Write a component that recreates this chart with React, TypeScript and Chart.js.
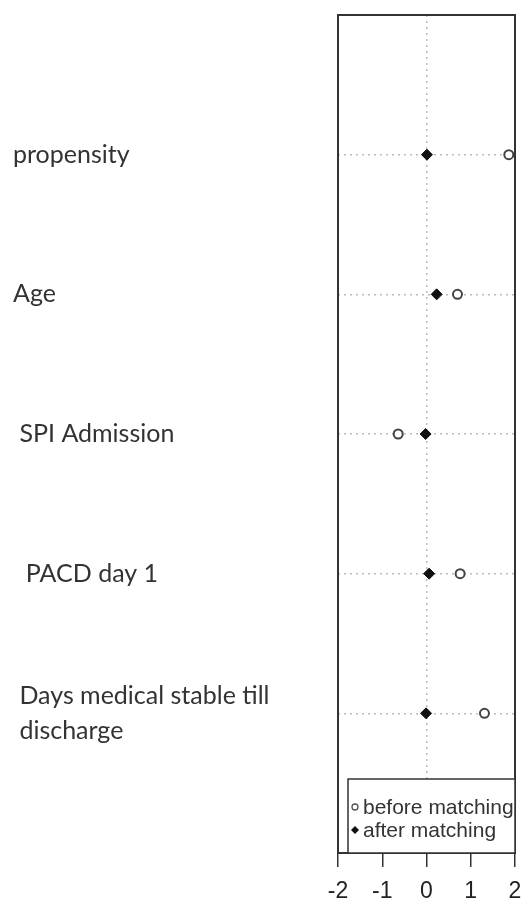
import { useEffect, useRef } from "react";
import { Chart, registerables } from "chart.js";

Chart.register(...registerables);

const categories: (string | string[])[] = [
  "propensity",
  "Age",
  " SPI Admission",
  "  PACD day 1",
  [" Days medical stable till", " discharge"],
];
const beforeMatching = [1.86, 0.7, -0.64, 0.76, 1.31];
const afterMatching = [0.01, 0.23, -0.02, 0.06, -0.01];
const xTicks = [-2, -1, 0, 1, 2];
const legendLabels = ["before matching", "after matching"];

const boxPlugin = {
  id: "boxAndLegend",
  afterDraw(chart: any) {
    const { ctx, chartArea: a } = chart;
    ctx.save();
    ctx.setLineDash([]);
    ctx.strokeStyle = "#333";
    ctx.lineWidth = 2;
    ctx.strokeRect(a.left, a.top, a.right - a.left, a.bottom - a.top);
    // legend
    const lw = 167, lh = 74;
    const lx = a.right - lw, ly = a.bottom - lh;
    ctx.lineWidth = 1.5;
    ctx.fillStyle = "#fff";
    ctx.fillRect(lx, ly, lw, lh);
    ctx.strokeRect(lx, ly, lw, lh);
    ctx.font = "21px 'Liberation Sans', Arial, sans-serif";
    ctx.textBaseline = "alphabetic";
    ctx.textAlign = "left";
    const rows = [ly + 35, ly + 58];
    // before marker
    ctx.beginPath();
    ctx.arc(lx + 7, rows[0] - 7, 3, 0, Math.PI * 2);
    ctx.strokeStyle = "#555";
    ctx.lineWidth = 1.3;
    ctx.stroke();
    // after marker
    ctx.beginPath();
    const cx = lx + 7, cy = rows[1] - 7;
    ctx.moveTo(cx, cy - 4);
    ctx.lineTo(cx + 4, cy);
    ctx.lineTo(cx, cy + 4);
    ctx.lineTo(cx - 4, cy);
    ctx.closePath();
    ctx.fillStyle = "#111";
    ctx.fill();
    ctx.fillStyle = "#333";
    ctx.fillText(legendLabels[0], lx + 15, rows[0]);
    ctx.fillText(legendLabels[1], lx + 15, rows[1]);
    ctx.restore();
  },
};

export default function App() {
  const ref = useRef<HTMLCanvasElement>(null);
  useEffect(() => {
    document.body.style.margin = "0";
    const n = categories.length;
    const chart = new Chart(ref.current!, {
      type: "scatter",
      data: {
        datasets: [
          {
            label: legendLabels[0],
            data: beforeMatching.map((v, i) => ({ x: v, y: n - i })),
            pointStyle: "circle",
            pointRadius: 4.5,
            pointBorderWidth: 2,
            pointBorderColor: "#444",
            pointBackgroundColor: "#fff",
          },
          {
            label: legendLabels[1],
            data: afterMatching.map((v, i) => ({ x: v, y: n - i })),
            pointStyle: "rectRot",
            pointRadius: 5.5,
            pointBorderWidth: 1,
            pointBorderColor: "#111",
            pointBackgroundColor: "#111",
          },
        ],
      },
      options: {
        animation: false,
        responsive: false,
        layout: { padding: { top: 15, right: 7, left: 13, bottom: 0 } },
        plugins: { legend: { display: false }, tooltip: { enabled: false } },
        scales: {
          x: {
            type: "linear",
            min: -2,
            max: 2,
            afterBuildTicks: (axis: any) => {
              axis.ticks = xTicks.map((v) => ({ value: v }));
            },
            afterFit: (axis: any) => {
              axis.height = 52;
              axis.paddingLeft = 0;
              axis.paddingRight = 0;
            },
            border: { display: false, dash: [2, 4] },
            grid: {
              color: (c: any) => (c.tick && c.tick.value === 0 ? "#bbb" : "rgba(0,0,0,0)"),
              lineWidth: 1.5,
              tickColor: "#333",
              tickWidth: 1.5,
              tickLength: 14,
              tickBorderDash: [],
            },
            ticks: {
              padding: 11,
              color: "#222",
              font: { family: "'Liberation Sans', Arial, sans-serif", size: 23 },
              callback: (v: any) => String(v),
            },
          },
          y: {
            type: "linear",
            min: 0,
            max: 6,
            afterBuildTicks: (axis: any) => {
              axis.ticks = categories.map((_, i) => ({ value: n - i }));
            },
            afterFit: (axis: any) => {
              axis.width = 325;
              axis.paddingTop = 0;
              axis.paddingBottom = 0;
            },
            border: { display: false, dash: [2, 4] },
            grid: { color: "#bbb", lineWidth: 1.5, drawTicks: false },
            ticks: {
              crossAlign: "far",
              padding: 0,
              color: "#333",
              font: { family: "Lato, 'Noto Sans', sans-serif", size: 25, lineHeight: 1.4 },
              callback: (_v: any, i: number) => categories[i],
            },
          },
        },
      },
      plugins: [boxPlugin],
    });
    return () => chart.destroy();
  }, []);
  return (
    <div style={{ width: 522, height: 905 }}>
      <canvas ref={ref} width={522} height={905} style={{ display: "block" }} />
    </div>
  );
}
